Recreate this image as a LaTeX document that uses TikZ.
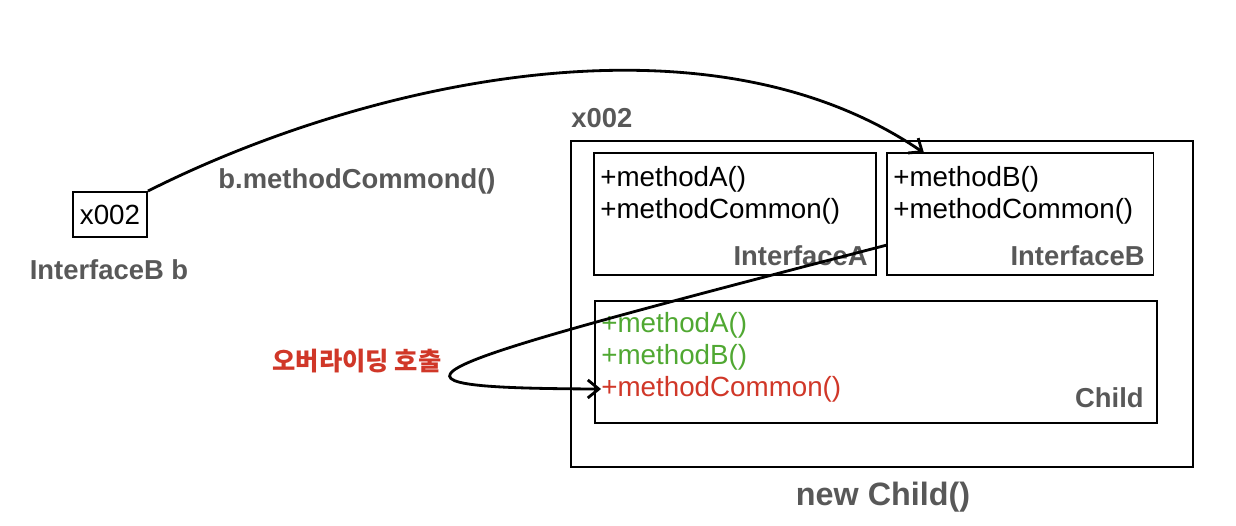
\documentclass[tikz,border=0pt]{standalone}
\usepackage{fontspec}
\setmainfont{Liberation Sans}
\newfontfamily\krfont{Noto Sans CJK KR}
\usetikzlibrary{arrows.meta}

\definecolor{labelgray}{RGB}{88,88,88}
\definecolor{overgreen}{RGB}{80,168,50}
\definecolor{callred}{RGB}{208,55,40}

\tikzset{
  box/.style={draw, line width=1.1pt, inner sep=0pt},
  method/.style={anchor=west, inner sep=0pt, font=\fontsize{15.8}{18}\selectfont},
  tag/.style={inner sep=0pt, text=labelgray, font=\fontsize{15.6}{18}\selectfont\bfseries},
  link/.style={line width=1.6pt, -{Straight Barb[length=2.2mm,width=3.6mm]}}
}

\begin{document}
\begin{tikzpicture}[x=0.02cm,y=-0.02cm]
    \useasboundingbox (0,0) rectangle (1236,525);

    % Reference variable
    \node[box, minimum width=1.48cm, minimum height=0.9cm] (ref) at (110,214.5) {};
    \node[method, anchor=center] (refval) at (ref.center) {x002};
    \node[tag] (reflabel) at (109,270) {InterfaceB b};

    % Instance and its parts
    \node[box, minimum width=12.46cm, minimum height=6.52cm] (heap) at (882,304) {};
    \node[tag, anchor=west] (addr) at (571,118) {x002};
    \node[box, minimum width=5.64cm, minimum height=2.44cm] (ifaceA) at (735,214) {};
    \node[box, minimum width=5.34cm, minimum height=2.44cm] (ifaceB) at (1020,214) {};
    \node[box, minimum width=11.26cm, minimum height=2.44cm] (child) at (876,362) {};

    % Methods
    \node[method] (aA) at (600,179) {+methodA()};
    \node[method] (aC) at (600,211) {+methodCommon()};
    \node[method] (bB) at (893,179) {+methodB()};
    \node[method] (bC) at (893,211) {+methodCommon()};
    \node[method, text=overgreen] (cA) at (601,325) {+methodA()};
    \node[method, text=overgreen] (cB) at (601,357) {+methodB()};
    \node[method, text=callred] (cC) at (601,389) {+methodCommon()};

    % Labels
    \node[tag, anchor=east] (nameA) at (868,256) {InterfaceA};
    \node[tag, anchor=east] (nameB) at (1145,256) {InterfaceB};
    \node[tag, anchor=east] (nameC) at (1144,398) {Child};
    \node[tag] (call) at (357,181) {b.methodCommond()};
    \node[tag, font=\fontsize{18.4}{22}\selectfont\bfseries] (newchild) at (883,497) {new Child()};
    \node[inner sep=0pt, text=callred, font=\krfont\fontsize{14.4}{17}\selectfont\bfseries] (override) at (357,361) {오버라이딩 호출};

    % Connectors
    \coordinate (bIn) at (924,153);
    \coordinate (bOut) at (887,245);
    \draw[link] (ref.north east) .. controls (354,87) and (702,1) .. (bIn);
    \draw[link] (bOut) .. controls (403,371) and (343,388) .. (cC.west);
\end{tikzpicture}
\end{document}
